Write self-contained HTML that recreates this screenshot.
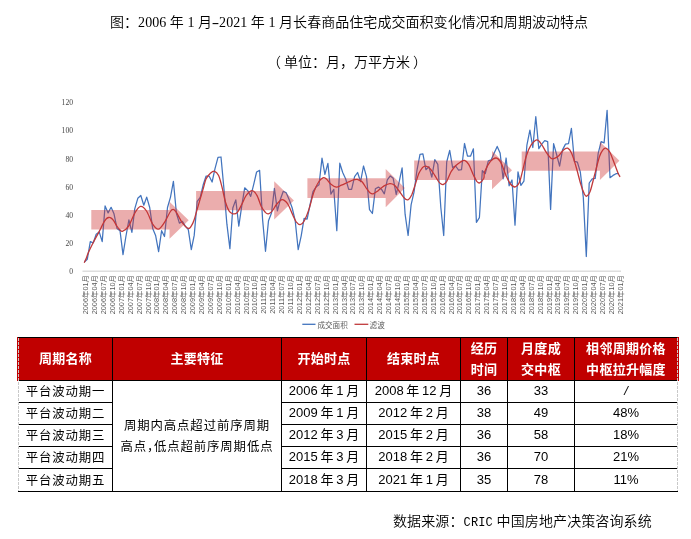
<!DOCTYPE html>
<html lang="zh">
<head>
<meta charset="utf-8">
<title>chart</title>
<style>
html,body{margin:0;padding:0;background:#fff;}
body{width:691px;height:539px;position:relative;overflow:hidden;font-family:"Liberation Sans","Noto Sans CJK SC",sans-serif;color:#000;}
.t{position:absolute;white-space:nowrap;font-family:"Liberation Serif","Noto Sans CJK SC",sans-serif;font-size:14px;line-height:16px;color:#000;font-weight:350;}
#t1{left:110px;top:15px;letter-spacing:0.05px;}
#t2{left:270px;top:55px;}
#src{left:393px;top:513.5px;font-size:14px;letter-spacing:0.12px;}
.hy{display:inline-block;width:7px;text-align:center;transform:scaleX(1.6);}
.mono{font-family:"Liberation Mono",monospace;font-size:12px;}
#chart{position:absolute;left:0;top:90px;width:691px;height:245px;}
table{position:absolute;left:18px;top:337px;border-collapse:collapse;table-layout:fixed;width:659px;}
td,th{border:1px solid #000;padding:0;text-align:center;vertical-align:middle;font-size:13px;font-weight:normal;}
th{background:#c00000;color:#fff;font-weight:bold;height:42px;font-size:13px;line-height:21px;letter-spacing:0.3px;}
td{height:20px;line-height:20px;padding-bottom:1px;}
td.n{font-family:"Liberation Sans","Noto Sans CJK SC",sans-serif;font-size:12.4px;letter-spacing:0.9px;font-weight:400;padding-top:1px;padding-bottom:0;line-height:20px;height:20px;}
th:first-child{border-left:1px solid #c00000;}
td:first-child{border-left:1px solid #fff;}
th:last-child{border-right:1px solid #c00000;}
td:last-child{border-right:1px solid #fff;}
.dash{position:absolute;top:338px;width:1px;height:153px;background:repeating-linear-gradient(to bottom,#c9c9c9 0,#c9c9c9 3px,transparent 3px,transparent 4px);}
.strip{position:absolute;top:337px;width:1px;height:44px;background:#c00000;}
tr:last-child td{height:21px;}
tr:last-child td.n{height:21px;}
th span{position:relative;top:-1px;}
td{word-spacing:-0.9px;}
</style>
</head>
<body>
<div class="t" id="t1">图：2006 年 1 月<span class="hy">-</span>2021 年 1 月长春商品住宅成交面积变化情况和周期波动特点</div>
<div class="t" id="t2"><span style="position:relative;left:-3px">（</span>单位：月，万平方米<span style="position:relative;left:3px">）</span></div>
<svg id="chart" viewBox="0 90 691 245">
<line x1="82.5" y1="271.3" x2="621" y2="271.3" stroke="#dedede" stroke-width="1.4"/>
<g font-family="'Liberation Serif',serif" font-size="7.9" fill="#454545" text-anchor="end">
<text x="73" y="273.9" textLength="3.8" lengthAdjust="spacingAndGlyphs">0</text>
<text x="73" y="245.8" textLength="7.6" lengthAdjust="spacingAndGlyphs">20</text>
<text x="73" y="217.7" textLength="7.6" lengthAdjust="spacingAndGlyphs">40</text>
<text x="73" y="189.6" textLength="7.6" lengthAdjust="spacingAndGlyphs">60</text>
<text x="73" y="161.5" textLength="7.6" lengthAdjust="spacingAndGlyphs">80</text>
<text x="73" y="133.4" textLength="11.4" lengthAdjust="spacingAndGlyphs">100</text>
<text x="73" y="105.3" textLength="11.4" lengthAdjust="spacingAndGlyphs">120</text>
</g>
<g font-family="'Liberation Sans','Noto Sans CJK SC',sans-serif" font-size="7.35" fill="#595959" text-anchor="end">
<text transform="translate(85.8 275.1) rotate(-90)" dy="2.4">2006年01月</text>
<text transform="translate(94.7 275.1) rotate(-90)" dy="2.4">2006年04月</text>
<text transform="translate(103.6 275.1) rotate(-90)" dy="2.4">2006年07月</text>
<text transform="translate(112.5 275.1) rotate(-90)" dy="2.4">2006年10月</text>
<text transform="translate(121.4 275.1) rotate(-90)" dy="2.4">2007年01月</text>
<text transform="translate(130.3 275.1) rotate(-90)" dy="2.4">2007年04月</text>
<text transform="translate(139.2 275.1) rotate(-90)" dy="2.4">2007年07月</text>
<text transform="translate(148.1 275.1) rotate(-90)" dy="2.4">2007年10月</text>
<text transform="translate(157.0 275.1) rotate(-90)" dy="2.4">2008年01月</text>
<text transform="translate(165.9 275.1) rotate(-90)" dy="2.4">2008年04月</text>
<text transform="translate(174.8 275.1) rotate(-90)" dy="2.4">2008年07月</text>
<text transform="translate(183.8 275.1) rotate(-90)" dy="2.4">2008年10月</text>
<text transform="translate(192.7 275.1) rotate(-90)" dy="2.4">2009年01月</text>
<text transform="translate(201.6 275.1) rotate(-90)" dy="2.4">2009年04月</text>
<text transform="translate(210.5 275.1) rotate(-90)" dy="2.4">2009年07月</text>
<text transform="translate(219.4 275.1) rotate(-90)" dy="2.4">2009年10月</text>
<text transform="translate(228.3 275.1) rotate(-90)" dy="2.4">2010年01月</text>
<text transform="translate(237.2 275.1) rotate(-90)" dy="2.4">2010年04月</text>
<text transform="translate(246.1 275.1) rotate(-90)" dy="2.4">2010年07月</text>
<text transform="translate(255.0 275.1) rotate(-90)" dy="2.4">2010年10月</text>
<text transform="translate(263.9 275.1) rotate(-90)" dy="2.4">2011年01月</text>
<text transform="translate(272.9 275.1) rotate(-90)" dy="2.4">2011年04月</text>
<text transform="translate(281.8 275.1) rotate(-90)" dy="2.4">2011年07月</text>
<text transform="translate(290.7 275.1) rotate(-90)" dy="2.4">2011年10月</text>
<text transform="translate(299.6 275.1) rotate(-90)" dy="2.4">2012年01月</text>
<text transform="translate(308.5 275.1) rotate(-90)" dy="2.4">2012年04月</text>
<text transform="translate(317.4 275.1) rotate(-90)" dy="2.4">2012年07月</text>
<text transform="translate(326.3 275.1) rotate(-90)" dy="2.4">2012年10月</text>
<text transform="translate(335.2 275.1) rotate(-90)" dy="2.4">2013年01月</text>
<text transform="translate(344.1 275.1) rotate(-90)" dy="2.4">2013年04月</text>
<text transform="translate(353.0 275.1) rotate(-90)" dy="2.4">2013年07月</text>
<text transform="translate(362.0 275.1) rotate(-90)" dy="2.4">2013年10月</text>
<text transform="translate(370.9 275.1) rotate(-90)" dy="2.4">2014年01月</text>
<text transform="translate(379.8 275.1) rotate(-90)" dy="2.4">2014年04月</text>
<text transform="translate(388.7 275.1) rotate(-90)" dy="2.4">2014年07月</text>
<text transform="translate(397.6 275.1) rotate(-90)" dy="2.4">2014年10月</text>
<text transform="translate(406.5 275.1) rotate(-90)" dy="2.4">2015年01月</text>
<text transform="translate(415.4 275.1) rotate(-90)" dy="2.4">2015年04月</text>
<text transform="translate(424.3 275.1) rotate(-90)" dy="2.4">2015年07月</text>
<text transform="translate(433.2 275.1) rotate(-90)" dy="2.4">2015年10月</text>
<text transform="translate(442.1 275.1) rotate(-90)" dy="2.4">2016年01月</text>
<text transform="translate(451.1 275.1) rotate(-90)" dy="2.4">2016年04月</text>
<text transform="translate(460.0 275.1) rotate(-90)" dy="2.4">2016年07月</text>
<text transform="translate(468.9 275.1) rotate(-90)" dy="2.4">2016年10月</text>
<text transform="translate(477.8 275.1) rotate(-90)" dy="2.4">2017年01月</text>
<text transform="translate(486.7 275.1) rotate(-90)" dy="2.4">2017年04月</text>
<text transform="translate(495.6 275.1) rotate(-90)" dy="2.4">2017年07月</text>
<text transform="translate(504.5 275.1) rotate(-90)" dy="2.4">2017年10月</text>
<text transform="translate(513.4 275.1) rotate(-90)" dy="2.4">2018年01月</text>
<text transform="translate(522.3 275.1) rotate(-90)" dy="2.4">2018年04月</text>
<text transform="translate(531.2 275.1) rotate(-90)" dy="2.4">2018年07月</text>
<text transform="translate(540.2 275.1) rotate(-90)" dy="2.4">2018年10月</text>
<text transform="translate(549.1 275.1) rotate(-90)" dy="2.4">2019年01月</text>
<text transform="translate(558.0 275.1) rotate(-90)" dy="2.4">2019年04月</text>
<text transform="translate(566.9 275.1) rotate(-90)" dy="2.4">2019年07月</text>
<text transform="translate(575.8 275.1) rotate(-90)" dy="2.4">2019年10月</text>
<text transform="translate(584.7 275.1) rotate(-90)" dy="2.4">2020年01月</text>
<text transform="translate(593.6 275.1) rotate(-90)" dy="2.4">2020年04月</text>
<text transform="translate(602.5 275.1) rotate(-90)" dy="2.4">2020年07月</text>
<text transform="translate(611.4 275.1) rotate(-90)" dy="2.4">2020年10月</text>
<text transform="translate(620.4 275.1) rotate(-90)" dy="2.4">2021年01月</text>
</g>
<polyline fill="none" stroke="#4274be" stroke-width="1.25" stroke-linejoin="round" points="84.3,262.0 87.3,259.2 90.3,241.6 93.3,242.8 96.2,234.2 99.2,231.9 102.2,241.6 105.1,205.9 108.1,212.9 111.1,207.3 114.0,213.8 117.0,228.4 120.0,230.7 123.0,254.6 125.9,236.5 128.9,219.8 131.9,232.3 134.8,208.7 137.8,198.3 140.8,195.5 143.8,205.2 146.7,197.1 149.7,207.5 152.7,228.4 155.6,235.4 158.6,251.6 161.6,230.7 164.5,236.5 167.5,207.5 170.5,197.1 173.4,181.3 176.4,213.3 179.4,223.1 182.4,221.4 185.3,226.1 188.3,229.6 191.3,249.7 194.2,235.4 197.2,201.3 200.2,197.5 203.2,184.8 206.1,176.0 209.1,176.0 212.1,182.0 215.0,168.6 218.0,157.4 221.0,157.0 223.9,188.3 226.9,224.2 229.9,248.6 232.8,208.0 235.8,199.9 238.8,226.1 241.8,205.7 244.7,187.8 247.7,190.6 250.7,196.4 253.6,184.8 256.6,172.0 259.6,170.4 262.6,219.6 265.5,251.3 268.5,220.7 271.5,213.1 274.4,188.3 277.4,210.8 280.4,199.2 283.3,191.3 286.3,192.9 289.3,199.9 292.2,208.0 295.2,220.7 298.2,249.7 301.2,235.8 304.1,218.4 307.1,219.1 310.1,204.5 313.0,191.7 316.0,187.1 319.0,184.8 322.0,158.1 324.9,174.3 327.9,163.4 330.9,194.1 333.8,189.4 336.8,230.7 339.8,163.2 342.7,172.5 345.7,179.0 348.7,189.4 351.6,189.4 354.6,176.6 357.6,172.5 360.6,181.7 363.5,166.0 366.5,176.6 369.5,209.6 372.4,213.5 375.4,188.7 378.4,187.1 381.4,189.2 384.3,193.8 387.3,179.9 390.3,175.9 393.2,178.3 396.2,194.5 399.2,181.7 402.1,167.8 405.1,214.2 408.1,235.5 411.1,204.9 414.0,192.2 417.0,170.1 420.0,154.4 422.9,153.9 425.9,169.7 428.9,166.7 431.8,177.1 434.8,159.7 437.8,164.3 440.8,207.2 443.7,235.5 446.7,162.0 449.7,150.4 452.6,167.4 455.6,166.0 458.6,170.1 461.5,169.7 464.5,143.5 467.5,156.2 470.5,156.2 473.4,148.8 476.4,222.3 479.4,217.7 482.3,170.7 485.3,173.7 488.3,160.8 491.2,159.8 494.2,152.9 497.2,146.4 500.1,152.9 503.1,178.8 506.1,158.0 509.1,185.8 512.0,180.0 515.0,225.2 518.0,171.9 520.9,185.3 523.9,181.2 526.9,145.2 529.9,130.1 532.8,147.5 535.8,116.7 538.8,148.7 541.7,144.1 544.7,140.6 547.7,141.7 550.6,209.4 553.6,143.6 556.6,154.5 559.6,166.1 562.5,149.9 565.5,144.1 568.5,143.6 571.4,128.3 574.4,161.4 577.4,162.1 580.3,171.9 583.3,197.4 586.3,256.5 589.2,183.0 592.2,178.8 595.2,178.4 598.2,153.3 601.1,141.7 604.1,142.9 607.1,110.4 610.0,177.7 613.0,175.4 616.0,173.7 619.0,173.7"/>
<path fill="none" stroke="#c0393b" stroke-width="1.3" stroke-linecap="round" d="M84.4 262.3C84.7 261.6 85.8 259.5 86.4 257.9C87.1 256.3 87.6 254.3 88.3 252.7C89.0 251.1 89.6 249.8 90.4 248.2C91.2 246.6 92.1 244.8 93.0 243.0C93.9 241.2 95.0 239.2 96.0 237.4C97.0 235.6 98.1 233.6 99.0 231.9C99.9 230.2 100.5 229.0 101.2 227.5C101.9 226.0 102.6 224.4 103.4 223.0C104.2 221.6 105.2 219.9 106.1 219.0C107.0 218.1 107.8 217.7 108.6 217.5C109.4 217.3 110.3 217.5 111.2 218.1C112.1 218.7 112.9 219.5 113.8 220.8C114.7 222.1 115.8 224.5 116.8 226.0C117.8 227.5 118.8 228.8 119.8 229.7C120.8 230.6 121.2 231.8 122.7 231.2C124.2 230.6 126.6 229.1 128.6 226.1C130.6 223.1 132.7 216.6 134.7 213.3C136.6 210.0 138.5 206.8 140.5 206.4C142.4 206.0 144.5 208.1 146.5 211.0C148.5 213.9 150.6 220.8 152.5 223.8C154.5 226.8 156.3 229.3 158.3 229.1C160.3 228.9 162.3 225.5 164.3 222.6C166.4 219.7 168.9 213.7 170.4 211.5C171.8 209.3 172.2 209.3 173.2 209.4C174.1 209.5 174.7 210.0 176.2 212.2C177.7 214.4 180.2 219.9 182.2 222.6C184.2 225.3 186.7 227.8 188.2 228.4C189.7 229.0 190.3 227.4 191.2 226.1C192.2 224.7 193.1 223.0 194.0 220.3C195.0 217.6 195.5 215.0 197.0 209.9C198.5 204.7 201.5 194.6 203.0 189.4C204.5 184.3 204.8 181.7 206.0 179.0C207.3 176.3 209.0 174.5 210.4 173.2C211.9 171.9 213.3 170.9 214.6 171.3C216.0 171.7 217.3 172.9 218.6 175.5C219.8 178.1 220.9 182.7 222.0 187.1C223.2 191.5 224.3 198.2 225.5 202.2C226.7 206.1 227.7 208.8 229.0 210.8C230.2 212.7 231.6 213.5 232.9 213.8C234.3 214.1 235.6 214.2 237.1 212.6C238.6 211.1 240.2 207.4 241.7 204.5C243.3 201.6 244.6 197.5 246.4 195.2C248.1 192.9 250.4 190.6 252.2 190.6C253.9 190.6 255.3 192.5 256.8 195.2C258.4 197.9 260.0 203.9 261.4 206.8C262.9 209.7 264.5 211.4 265.6 212.6C266.8 213.8 267.4 214.0 268.4 213.8C269.4 213.6 270.5 213.0 271.9 211.4C273.2 209.9 275.0 206.4 276.5 204.5C278.1 202.6 279.8 200.5 281.2 199.9C282.5 199.2 283.5 199.8 284.6 200.6C285.8 201.3 286.8 202.1 288.1 204.5C289.5 206.9 291.4 212.0 292.8 214.9C294.1 217.8 295.0 220.3 296.2 221.9C297.5 223.5 298.8 224.9 300.2 224.7C301.5 224.5 302.9 223.3 304.3 220.7C305.8 218.1 307.4 213.8 309.0 209.1C310.5 204.5 312.1 197.3 313.6 192.9C315.2 188.5 316.7 185.0 318.3 182.5C319.8 180.0 321.5 178.4 322.9 177.8C324.3 177.2 325.0 177.9 326.4 179.0C327.7 180.1 329.4 183.0 331.0 184.3C332.7 185.7 334.6 186.9 336.3 187.1C338.1 187.3 339.4 186.1 341.4 185.2C343.5 184.4 346.3 182.9 348.4 182.0C350.5 181.1 352.7 180.1 354.2 179.7C355.7 179.3 356.1 179.1 357.4 179.4C358.7 179.8 360.5 180.2 362.0 181.7C363.6 183.3 365.3 186.8 366.7 188.7C368.0 190.6 369.1 192.0 370.1 192.9C371.2 193.7 371.8 194.2 373.2 193.8C374.5 193.4 376.4 191.9 378.3 190.6C380.1 189.2 382.1 187.1 384.1 185.9C386.0 184.8 388.1 183.7 389.9 183.6C391.6 183.5 392.9 184.0 394.5 185.2C396.0 186.5 397.6 189.0 399.1 191.0C400.7 193.1 402.3 196.0 403.8 197.5C405.2 199.0 406.6 200.3 407.9 199.8C409.3 199.3 410.6 197.1 411.9 194.5C413.1 191.9 414.2 187.5 415.4 184.1C416.5 180.6 417.7 176.3 418.8 173.6C420.0 170.9 421.2 169.1 422.3 167.8C423.5 166.6 424.4 166.0 425.8 166.2C427.1 166.4 428.9 167.4 430.4 169.0C432.0 170.6 433.5 173.6 435.1 175.9C436.6 178.3 438.4 181.5 439.7 182.9C441.1 184.3 442.0 184.8 443.2 184.5C444.3 184.3 445.3 183.5 446.7 181.3C448.0 179.1 449.8 173.9 451.3 171.3C452.9 168.7 454.4 167.1 455.9 165.5C457.5 164.0 459.1 162.9 460.6 162.0C462.0 161.2 463.2 160.0 464.5 160.4C465.9 160.8 467.2 162.0 468.7 164.3C470.2 166.7 472.0 172.0 473.3 174.8C474.7 177.6 475.8 179.9 476.8 181.3C477.9 182.6 478.4 183.4 479.6 182.9C480.8 182.4 482.9 180.1 483.8 178.3C484.6 176.4 483.5 174.7 484.6 171.9C485.7 169.1 488.5 163.8 490.4 161.4C492.4 159.1 494.5 157.8 496.2 158.0C498.0 158.2 499.3 159.9 500.9 162.6C502.4 165.3 504.0 170.7 505.5 174.2C507.1 177.7 508.6 181.4 510.1 183.5C511.7 185.6 513.2 187.1 514.8 187.0C516.3 186.8 518.1 185.2 519.4 182.3C520.8 179.4 521.7 174.0 522.9 169.6C524.1 165.1 525.0 159.7 526.4 155.7C527.7 151.6 529.3 147.8 531.0 145.2C532.8 142.6 535.1 140.1 536.8 139.9C538.6 139.7 539.9 142.0 541.4 144.1C543.0 146.1 544.5 149.9 546.1 152.2C547.6 154.5 549.4 156.9 550.7 158.0C552.0 159.1 552.4 159.1 553.7 158.7C555.1 158.3 557.2 157.1 558.8 155.7C560.5 154.2 562.0 151.1 563.5 149.9C564.9 148.6 566.3 147.7 567.7 148.2C569.0 148.8 570.2 150.2 571.6 153.3C573.0 156.5 574.7 162.0 576.2 167.2C577.8 172.5 579.5 180.2 580.9 184.6C582.2 189.1 583.4 192.0 584.3 193.9C585.3 195.8 585.7 196.6 586.7 196.2C587.6 195.8 588.8 195.3 590.1 191.6C591.5 187.9 593.2 180.0 594.8 174.2C596.3 168.4 598.1 160.9 599.4 156.8C600.8 152.8 601.8 151.3 602.9 149.9C604.0 148.4 604.8 147.8 605.9 148.2C607.1 148.6 608.4 149.6 609.9 152.2C611.3 154.8 613.1 160.3 614.5 163.8C615.8 167.2 617.1 170.9 618.0 173.0C618.9 175.2 619.5 175.9 619.8 176.5"/>
<polygon fill="#cc3333" fill-opacity="0.4" points="91.3,209.9 169.5,209.9 169.5,201.7 188.7,220.2 169.5,238.8 169.5,229.6 91.3,229.6"/>
<polygon fill="#cc3333" fill-opacity="0.4" points="196.1,191.0 274.2,191.0 274.2,181.3 293.9,200.4 274.2,219.6 274.2,210.2 196.1,210.2"/>
<polygon fill="#cc3333" fill-opacity="0.4" points="307.4,178.3 385.7,178.3 385.7,169.0 404.9,188.1 385.7,207.2 385.7,198.0 307.4,198.0"/>
<polygon fill="#cc3333" fill-opacity="0.4" points="414.2,160.4 492.0,160.4 492.0,151.0 512.0,170.2 492.0,189.3 492.0,179.9 414.2,179.9"/>
<polygon fill="#cc3333" fill-opacity="0.4" points="521.7,151.5 599.9,151.5 599.9,141.7 619.4,160.8 599.9,180.0 599.9,170.7 521.7,170.7"/>
<line x1="302.3" y1="324.3" x2="315.5" y2="324.3" stroke="#4274be" stroke-width="1.3"/>
<line x1="354.5" y1="324.3" x2="368.3" y2="324.3" stroke="#c0393b" stroke-width="1.3"/>
<g font-family="'Liberation Sans','Noto Sans CJK SC',sans-serif" font-size="7.6" fill="#595959"><text x="317.4" y="327.8">成交面积</text><text x="369.6" y="327.8">滤波</text></g>
</svg>
<table>
<colgroup><col style="width:94px"><col style="width:169px"><col style="width:85px"><col style="width:94px"><col style="width:47px"><col style="width:67px"><col style="width:103px"></colgroup>
<tr><th><span>周期名称</span></th><th><span>主要特征</span></th><th><span>开始时点</span></th><th><span>结束时点</span></th><th>经历<br>时间</th><th>月度成<br>交中枢</th><th>相邻周期价格<br>中枢拉升幅度</th></tr>
<tr><td class="n">平台波动期一</td><td rowspan="5" class="n" style="line-height:21px">周期内高点超过前序周期<br>高点<span style="margin-right:-6.5px">，</span>低点超前序周期低点</td><td>2006 年 1 月</td><td>2008 年 12 月</td><td>36</td><td>33</td><td><i>/</i></td></tr>
<tr><td class="n">平台波动期二</td><td>2009 年 1 月</td><td>2012 年 2 月</td><td>38</td><td>49</td><td>48%</td></tr>
<tr><td class="n">平台波动期三</td><td>2012 年 3 月</td><td>2015 年 2 月</td><td>36</td><td>58</td><td>18%</td></tr>
<tr><td class="n">平台波动期四</td><td>2015 年 3 月</td><td>2018 年 2 月</td><td>36</td><td>70</td><td>21%</td></tr>
<tr><td class="n">平台波动期五</td><td>2018 年 3 月</td><td>2021 年 1 月</td><td>35</td><td>78</td><td>11%</td></tr>
</table>
<div class="strip" style="left:17px"></div><div class="strip" style="left:678px"></div><div class="dash" style="left:18px"></div><div class="dash" style="left:677px"></div>
<div class="t" id="src">数据来源：<span class="mono">CRIC</span> 中国房地产决策咨询系统</div>
</body>
</html>
